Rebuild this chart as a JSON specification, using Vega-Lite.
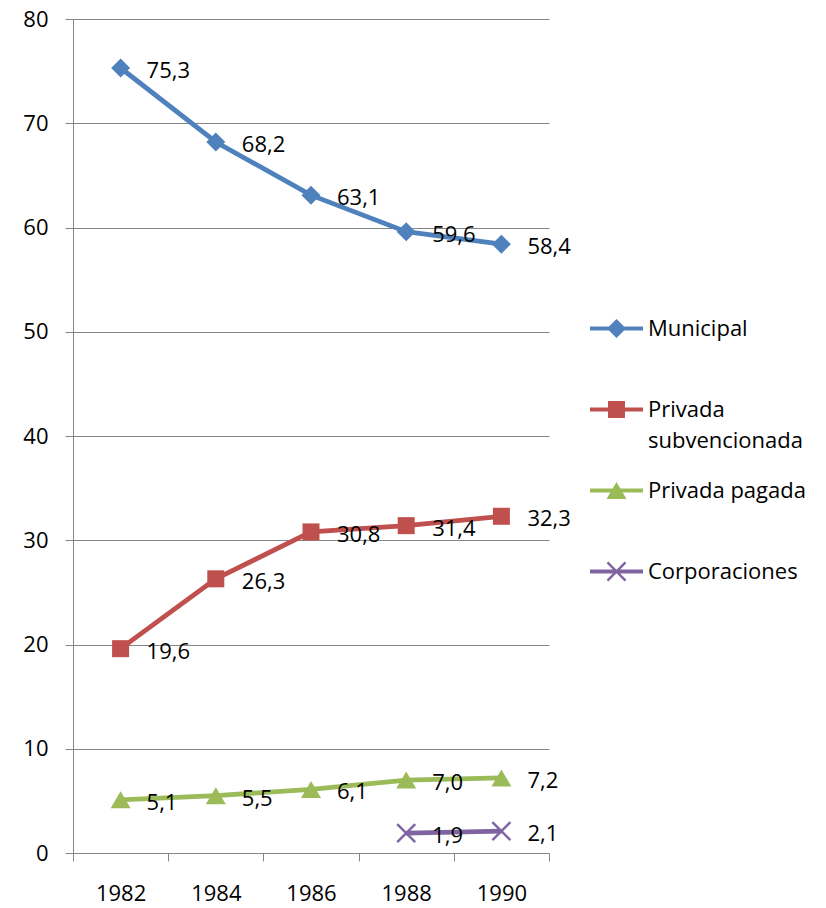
{
  "$schema": "https://vega.github.io/schema/vega-lite/v6.json",
  "width": 476,
  "height": 834,
  "autosize": {"type": "none"},
  "padding": {"left": 73, "top": 19, "right": 277, "bottom": 55},
  "background": "white",
  "config": {
    "view": {"stroke": null},
    "font": "Open Sans",
    "locale": {"number": {"decimal": ",", "thousands": ".", "grouping": [3], "currency": ["", ""]}},
    "axis": {
      "labelFont": "Open Sans",
      "labelFontSize": 22,
      "labelColor": "black",
      "domainColor": "#868686",
      "tickColor": "#868686",
      "gridColor": "#868686",
      "gridWidth": 1,
      "domainWidth": 1,
      "tickWidth": 1,
      "tickSize": 8,
      "title": null
    }
  },
  "data": {
    "values": [
      {"serie": "Municipal", "year": 1982, "value": 75.3},
      {"serie": "Municipal", "year": 1984, "value": 68.2},
      {"serie": "Municipal", "year": 1986, "value": 63.1},
      {"serie": "Municipal", "year": 1988, "value": 59.6},
      {"serie": "Municipal", "year": 1990, "value": 58.4},
      {"serie": "Privada subvencionada", "year": 1982, "value": 19.6},
      {"serie": "Privada subvencionada", "year": 1984, "value": 26.3},
      {"serie": "Privada subvencionada", "year": 1986, "value": 30.8},
      {"serie": "Privada subvencionada", "year": 1988, "value": 31.4},
      {"serie": "Privada subvencionada", "year": 1990, "value": 32.3},
      {"serie": "Privada pagada", "year": 1982, "value": 5.1},
      {"serie": "Privada pagada", "year": 1984, "value": 5.5},
      {"serie": "Privada pagada", "year": 1986, "value": 6.1},
      {"serie": "Privada pagada", "year": 1988, "value": 7.0},
      {"serie": "Privada pagada", "year": 1990, "value": 7.2},
      {"serie": "Corporaciones", "year": 1988, "value": 1.9},
      {"serie": "Corporaciones", "year": 1990, "value": 2.1}
    ]
  },
  "layer": [
    {
      "mark": {"type": "line", "strokeWidth": 4.8},
      "encoding": {
        "x": {
          "field": "year", "type": "quantitative",
          "scale": {"domain": [1981, 1991], "nice": false, "zero": false},
          "axis": {
            "values": [1981, 1982, 1983, 1984, 1985, 1986, 1987, 1988, 1989, 1990, 1991],
            "format": "d",
            "labelExpr": "datum.value % 2 == 0 ? datum.label : ''",
            "tickOpacity": {"condition": {"test": "datum.value % 2 == 0", "value": 0}, "value": 1},
            "grid": false,
            "labelPadding": 22,
            "labelOverlap": false,
            "labelFlush": false
          }
        },
        "y": {
          "field": "value", "type": "quantitative",
          "scale": {"domain": [0, 80], "nice": false},
          "axis": {
            "values": [0, 10, 20, 30, 40, 50, 60, 70, 80],
            "format": "d",
            "grid": true,
            "labelPadding": 17
          }
        },
        "color": {
          "field": "serie", "type": "nominal",
          "scale": {"domain": ["Municipal", "Privada subvencionada", "Privada pagada", "Corporaciones"], "range": ["#4F81BD", "#C0504D", "#9BBB59", "#8064A2"]},
          "legend": null
        }
      }
    },
    {
      "mark": {"type": "point", "filled": true, "opacity": 1, "size": 400, "strokeWidth": 0},
      "encoding": {
        "x": {"field": "year", "type": "quantitative"},
        "y": {"field": "value", "type": "quantitative"},
        "color": {
          "field": "serie", "type": "nominal",
          "scale": {"domain": ["Municipal", "Privada subvencionada", "Privada pagada", "Corporaciones"], "range": ["#4F81BD", "#C0504D", "#9BBB59", "#8064A2"]},
          "legend": null
        },
        "shape": {
          "field": "serie", "type": "nominal",
          "scale": {
            "domain": ["Municipal", "Privada subvencionada", "Privada pagada", "Corporaciones"],
            "range": [
              "M0,-0.95L0.95,0L0,0.95L-0.95,0Z",
              "M-0.85,-0.85H0.85V0.85H-0.85Z",
              "M0,-0.85L1,0.85H-1Z",
              "M-0.815,-0.985L0.985,0.815L0.815,0.985L-0.985,-0.815ZM-0.985,0.815L0.815,-0.985L0.985,-0.815L-0.815,0.985Z"
            ]
          },
          "legend": null
        }
      }
    },
    {
      "mark": {"type": "text", "align": "left", "baseline": "middle", "dx": 26, "dy": 3, "font": "Open Sans", "fontSize": 22, "color": "black"},
      "encoding": {
        "x": {"field": "year", "type": "quantitative"},
        "y": {"field": "value", "type": "quantitative"},
        "text": {"field": "value", "type": "quantitative", "format": ".1f"}
      }
    },
    {
      "mark": {"type": "point", "filled": true, "opacity": 0, "size": 2809, "strokeWidth": 0},
      "encoding": {
        "x": {"field": "year", "type": "quantitative"},
        "y": {"field": "value", "type": "quantitative"},
        "color": {
          "field": "serie", "type": "nominal",
          "scale": {"domain": ["Municipal", "Privada subvencionada", "Privada pagada", "Corporaciones"], "range": ["#4F81BD", "#C0504D", "#9BBB59", "#8064A2"]},
          "legend": {
            "title": null, "orient": "none", "legendX": 517, "legendY": 283,
            "symbolSize": 2809, "symbolOpacity": 1, "symbolStrokeWidth": 0,
            "labelFont": "Open Sans", "labelFontSize": 22, "labelColor": "black",
            "labelOffset": 5, "rowPadding": 12, "labelLimit": 400, "padding": 0,
            "labelExpr": "datum.label == 'Privada subvencionada' ? ['Privada', 'subvencionada'] : [datum.label, ' ']",
            "encode": {"labels": {"update": {"lineHeight": {"value": 31}}}}
          }
        },
        "shape": {
          "field": "serie", "type": "nominal",
          "scale": {
            "domain": ["Municipal", "Privada subvencionada", "Privada pagada", "Corporaciones"],
            "range": [
              "M-1,-0.075H1V0.075H-1ZM0,-0.36L0.36,0L0,0.36L-0.36,0Z",
              "M-1,-0.075H1V0.075H-1ZM-0.32,-0.32H0.32V0.32H-0.32Z",
              "M-1,-0.075H1V0.075H-1ZM0,-0.32L0.38,0.32H-0.38Z",
              "M-1,-0.075H1V0.075H-1ZM-0.307,-0.373L0.373,0.307L0.307,0.373L-0.373,-0.307ZM-0.373,0.307L0.307,-0.373L0.373,-0.307L-0.307,0.373Z"
            ]
          },
          "legend": {
            "title": null, "orient": "none", "legendX": 517, "legendY": 283,
            "symbolSize": 2809, "symbolOpacity": 1, "symbolStrokeWidth": 0,
            "labelFont": "Open Sans", "labelFontSize": 22, "labelColor": "black",
            "labelOffset": 5, "rowPadding": 12, "labelLimit": 400, "padding": 0,
            "labelExpr": "datum.label == 'Privada subvencionada' ? ['Privada', 'subvencionada'] : [datum.label, ' ']",
            "encode": {"labels": {"update": {"lineHeight": {"value": 31}}}}
          }
        }
      }
    }
  ],
  "resolve": {"scale": {"color": "independent", "shape": "independent"}}
}
